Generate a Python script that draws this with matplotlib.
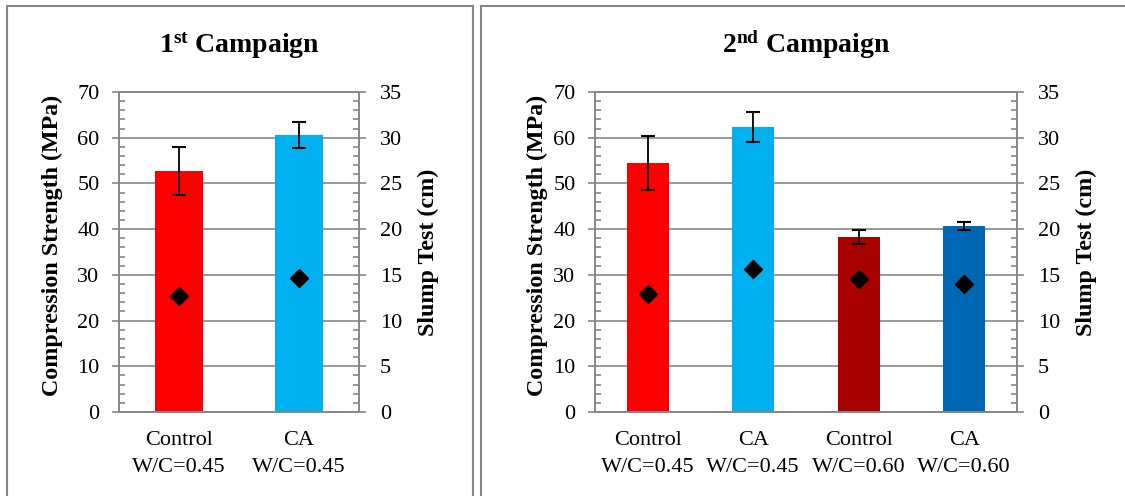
import numpy as np
import matplotlib
matplotlib.use("Agg")
import matplotlib.pyplot as plt
from matplotlib.lines import Line2D
from matplotlib.ticker import MultipleLocator

plt.rcParams['font.family'] = ['Liberation Serif', 'DejaVu Serif']
plt.rcParams['mathtext.fontset'] = 'custom'
plt.rcParams['mathtext.rm'] = 'Liberation Serif'
plt.rcParams['mathtext.bf'] = 'Liberation Serif:bold'

# ---- data ----
c1_labels = ['Control\nW/C=0.45', 'CA\nW/C=0.45']
c1_strength = [52.7, 60.6]      # MPa
c1_error = [5.3, 2.8]           # MPa
c1_slump = [12.7, 14.7]         # cm
c1_colors = ['#FF0000', '#00B0F0']

c2_labels = ['Control\nW/C=0.45', 'CA\nW/C=0.45', 'Control\nW/C=0.60', 'CA\nW/C=0.60']
c2_strength = [54.5, 62.3, 38.3, 40.7]
c2_error = [5.9, 3.3, 1.6, 0.9]
c2_slump = [12.9, 15.6, 14.5, 14.0]
c2_colors = ['#FF0000', '#00B0F0', '#A80000', '#0067B4']

W, H = 1125, 496
GRAY = '#868686'
fig = plt.figure(figsize=(W / 100, H / 100), dpi=100)


def fx(px):
    return px / W


def fy(py):
    return 1 - py / H


def panel(left, right, labels, strength, error, slump, colors, title,
          ylab_x, y2lab_x):
    top, bottom = 92, 412
    ax = fig.add_axes([fx(left), fy(bottom), (right - left) / W, (bottom - top) / H])
    x = np.arange(len(labels))
    ax.bar(x, strength, width=0.4, color=colors, zorder=2)
    ax.errorbar(x, strength, yerr=error, fmt='none', ecolor='black',
                elinewidth=1.3, capsize=4.8, capthick=1.5, zorder=3)
    ax.set_xlim(-0.5, len(labels) - 0.5)
    ax.set_ylim(0, 70)
    ax.yaxis.set_major_locator(MultipleLocator(10))
    ax.yaxis.set_minor_locator(MultipleLocator(2))
    ax.grid(axis='y', which='major', color=GRAY, lw=1.2)
    ax.set_axisbelow(True)
    ax.set_xticks(x)
    ax.set_xticklabels(labels, fontsize=16, linespacing=1.55)
    ax.tick_params(axis='x', length=0, pad=14)
    ax.tick_params(axis='y', which='major', direction='out', length=5,
                   width=1.2, color=GRAY, labelsize=16, pad=9)
    ax.tick_params(axis='y', which='minor', direction='in', length=4.3,
                   width=1.2, color=GRAY)
    for s in ax.spines.values():
        s.set_color(GRAY)
        s.set_linewidth(1.2)

    ax2 = ax.twinx()
    ax2.set_ylim(0, 35)
    ax2.yaxis.set_major_locator(MultipleLocator(5))
    ax2.yaxis.set_minor_locator(MultipleLocator(1))
    ax2.plot(x, slump, linestyle='none', marker='D', color='black',
             markersize=9, zorder=4)
    ax2.tick_params(axis='y', which='major', direction='out', length=5,
                    width=1.2, color=GRAY, labelsize=16, pad=10)
    ax2.tick_params(axis='y', which='minor', direction='in', length=4.3,
                    width=1.2, color=GRAY)
    for s in ax2.spines.values():
        s.set_color(GRAY)
        s.set_linewidth(1.2)

    cx = (left + right) / 2
    fig.text(fx(cx), fy(53), title, ha='center', va='baseline',
             fontsize=20, fontweight='bold')
    fig.text(fx(ylab_x), fy(245), 'Compression Strength (MPa)', rotation=90,
             ha='center', va='center', fontsize=17.3, fontweight='bold')
    fig.text(fx(y2lab_x), fy(252), 'Slump Test (cm)', rotation=90,
             ha='center', va='center', fontsize=17.3, fontweight='bold')


panel(119, 359, c1_labels, c1_strength, c1_error, c1_slump, c1_colors,
      r'$\mathbf{1^{st}}$ Campaign', 52, 428)
panel(595, 1017, c2_labels, c2_strength, c2_error, c2_slump, c2_colors,
      r'$\mathbf{2^{nd}}$ Campaign', 537, 1086)

# panel frames
frame = dict(transform=fig.transFigure, color=GRAY, lw=1.5)
fig.add_artist(Line2D([fx(7), fx(7)], [fy(6), 0], **frame))
fig.add_artist(Line2D([fx(7), fx(473)], [fy(6), fy(6)], **frame))
fig.add_artist(Line2D([fx(473), fx(473)], [fy(6), 0], **frame))
fig.add_artist(Line2D([fx(481), fx(481)], [fy(6), 0], **frame))
fig.add_artist(Line2D([fx(481), 1], [fy(6), fy(6)], **frame))

fig.savefig('out.png', dpi=100)
